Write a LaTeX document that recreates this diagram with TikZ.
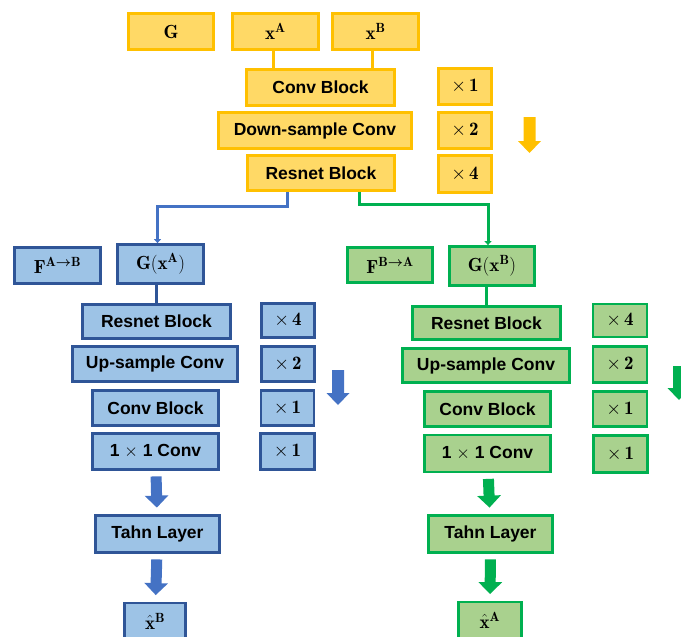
\documentclass[tikz,border=0pt]{standalone}
\usepackage{fix-cm}
\usepackage{amsmath}
\usepackage{fontspec}
\newfontfamily\labelfont{Liberation Sans}
\usepackage[dvipsnames]{xcolor}
\definecolor{ENCfill}{HTML}{FFD966}
\definecolor{ENCcolor}{HTML}{FFC000}
\definecolor{ABfill}{HTML}{9DC3E6}
\definecolor{ABcolor}{HTML}{2F5597}
\definecolor{ABline}{HTML}{4472C4}
\definecolor{BAfill}{HTML}{A9D18E}
\definecolor{BAcolor}{HTML}{00B050}
\usepackage{tikz}
\usetikzlibrary{arrows.meta, calc}

\begin{document}
\begin{tikzpicture}[x=1pt, y=-1pt]
    \tikzset{%
        blk/.style={line width=2.8pt, inner sep=0pt, text=black,
                font=\labelfont\bfseries\fontsize{17.5}{20}\selectfont},
        mth/.style={font=\fontsize{19}{22}\selectfont},
        enc/.style={blk, draw=ENCcolor, fill=ENCfill},
        ab/.style={blk, draw=ABcolor, fill=ABfill},
        ba/.style={blk, draw=BAcolor, fill=BAfill},
        sz/.style args={#1/#2}{minimum width=#1, minimum height=#2},
        link/.style={line width=3pt, draw=#1},
        flow/.style={line width=11pt, draw=#1, -{Triangle[width=23pt, length=12pt]},
                shorten <=5.5pt, shorten >=6.5pt},
        pics/downarrow/.style args={#1/#2}{code={%
                        \fill [#1] (-6, 0) -- (6, 0) -- (6, #2-12) -- (11.5, #2-12)
                        -- (0, #2) -- (-11.5, #2-12) -- (-6, #2-12) -- cycle;
                    }
            }
    }
    \clip (0, 0) rectangle (681, 637);

    % encoder
    \node [enc, mth, sz=85/36] (gen) at (171, 31.5) {$\mathbf{G}$};
    \node [enc, mth, sz=86/36] (xA) at (275.5, 31.5) {$\mathbf{x}^{\mathbf{A}}$};
    \node [enc, mth, sz=86/36] (xB) at (375.5, 31.5) {$\mathbf{x}^{\mathbf{B}}$};
    \node [enc, sz=148/36] (convY) at (320.5, 87.5) {Conv Block};
    \node [enc, sz=193/36] (downY) at (315, 130.5) {Down-sample Conv};
    \node [enc, sz=147/35] (resY) at (321, 173) {Resnet Block};
    \node [enc, mth, sz=53/36] (repY1) at (465, 86.5) {$\times\,\mathbf{1}$};
    \node [enc, mth, sz=53/36] (repY2) at (465, 130.5) {$\times\,\mathbf{2}$};
    \node [enc, mth, sz=53/37] (repY4) at (465, 174) {$\times\,\mathbf{4}$};
    \pic at (529.5, 117) {downarrow=ENCcolor/36};

    \draw [link=ENCcolor] ([xshift=-2pt]xA.south) -- ([xshift=-2pt]xA.south |- convY.north);
    \draw [link=ENCcolor] ([xshift=-3pt]xB.south) -- ([xshift=-3pt]xB.south |- convY.north);

    % A -> B
    \node [ab, mth, sz=86/36] (fA) at (57.5, 265.5) {$\mathbf{F}^{\mathbf{A}\boldsymbol{\rightarrow}\mathbf{B}}$};
    \node [ab, mth, sz=86/39] (gA) at (160.5, 264) {$\mathbf{G}(\mathbf{x}^{\mathbf{A}})$};
    \node [ab, sz=148/34] (resA) at (156.5, 321.5) {Resnet Block};
    \node [ab, sz=165/35] (upA) at (155, 364) {Up-sample Conv};
    \node [ab, sz=126/35] (convA) at (155.5, 408) {Conv Block};
    \node [ab, sz=126/36] (oneA) at (155.5, 451.5) {1 $\times$ 1 Conv};
    \node [ab, mth, sz=53/34] (repA4) at (288, 320.5) {$\times\,\mathbf{4}$};
    \node [ab, mth, sz=53/35] (repA2) at (288, 364) {$\times\,\mathbf{2}$};
    \node [ab, mth, sz=53/35] (repA1) at (287.5, 408) {$\times\,\mathbf{1}$};
    \node [ab, mth, sz=54/36] (repA1b) at (287.5, 451.5) {$\times\,\mathbf{1}$};
    \node [ab, sz=124/37] (tahnA) at (157.5, 534) {Tahn Layer};
    \node [ab, mth, sz=61/36] (hatA) at (155, 621) {$\hat{\mathbf{x}}^{\mathbf{B}}$};
    \pic at (338, 370) {downarrow=ABline/35};

    \draw [link=ABline, -{Triangle[width=7pt, length=4pt]}] ([xshift=-34pt]resY.south)
    -- ++(0, 15) -| ([xshift=-3pt]gA.north);
    \draw [link=ABcolor] (resA.north) -- (resA.north |- gA.south);
    \draw [flow=ABline] (oneA) -- (tahnA);
    \draw [flow=ABline] (tahnA) -- (hatA);

    % B -> A
    \node [ba, mth, sz=85/35] (fB) at (390, 265) {$\mathbf{F}^{\mathbf{B}\boldsymbol{\rightarrow}\mathbf{A}}$};
    \node [ba, mth, sz=85/39] (gB) at (492, 266) {$\mathbf{G}(\mathbf{x}^{\mathbf{B}})$};
    \node [ba, sz=148/33] (resB) at (486.5, 323) {Resnet Block};
    \node [ba, sz=167/34] (upB) at (486, 365.5) {Up-sample Conv};
    \node [ba, sz=126/35] (convB) at (487.5, 409) {Conv Block};
    \node [ba, sz=126/37] (oneB) at (487.5, 453.5) {1 $\times$ 1 Conv};
    \node [ba, mth, sz=54/33] (repB4) at (620, 320.5) {$\times\,\mathbf{4}$};
    \node [ba, mth, sz=54/36] (repB2) at (620, 364.5) {$\times\,\mathbf{2}$};
    \node [ba, mth, sz=54/35] (repB1) at (620, 409) {$\times\,\mathbf{1}$};
    \node [ba, mth, sz=54/37] (repB1b) at (620.5, 454) {$\times\,\mathbf{1}$};
    \node [ba, sz=124/37] (tahnB) at (490.5, 534) {Tahn Layer};
    \node [ba, mth, sz=63/36] (hatB) at (490, 620) {$\hat{\mathbf{x}}^{\mathbf{A}}$};
    \pic at (679, 366) {downarrow=BAcolor/34};

    \draw [link=BAcolor, -{Triangle[width=7pt, length=4pt]}] ([xshift=38pt]resY.south)
    -- ++(0, 13) -| ([xshift=-4pt]gB.north);
    \draw [link=BAcolor] (resB.north) -- (resB.north |- gB.south);
    \draw [flow=BAcolor] (oneB) -- (tahnB);
    \draw [flow=BAcolor] (tahnB) -- (hatB);
\end{tikzpicture}
\end{document}
